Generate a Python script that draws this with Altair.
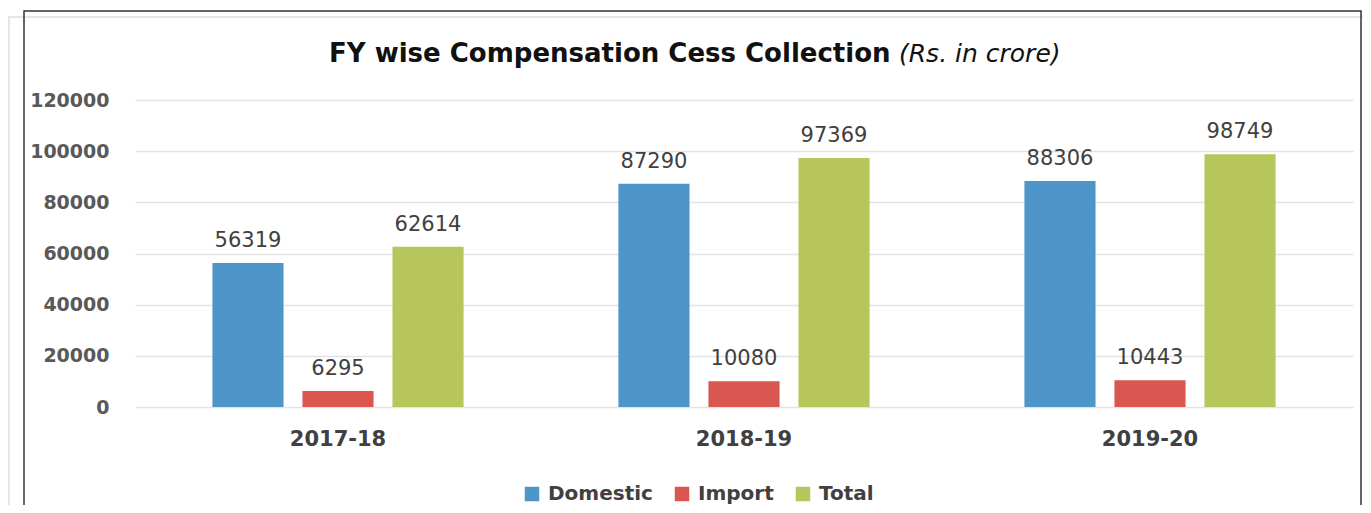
import altair as alt
import pandas as pd

years = ["2017-18", "2018-19", "2019-20"]
series = ["Domestic", "Import", "Total"]
domestic = [56319, 87290, 88306]
imports = [6295, 10080, 10443]
total = [62614, 97369, 98749]
colors = ["#4E95C9", "#DA5650", "#B7C65B"]
y_ticks = [0, 20000, 40000, 60000, 80000, 100000, 120000]

rows = []
for i, y in enumerate(years):
    for s, vals in zip(series, [domestic, imports, total]):
        rows.append({"year": y, "series": s, "value": vals[i]})
df = pd.DataFrame(rows)

W, H = 1218, 307

x = alt.X("year:N", sort=years, title=None,
          scale=alt.Scale(paddingInner=0, paddingOuter=0),
          axis=alt.Axis(labelAngle=0, labelFont="DejaVu Sans", labelFontWeight="bold",
                        labelFontSize=21, labelColor="#404040", labelPadding=21,
                        ticks=False, domain=False, grid=False))
xo = alt.XOffset("series:N", sort=series,
                 scale=alt.Scale(paddingInner=0.21, paddingOuter=0.86))
y = alt.Y("value:Q", title=None,
          scale=alt.Scale(domain=[0, 120000], nice=False),
          axis=alt.Axis(values=y_ticks, format="d", labelFont="DejaVu Sans",
                        labelFontWeight="bold", labelFontSize=19, labelColor="#595959",
                        labelPadding=26, ticks=False, domain=False,
                        gridColor="#E3E3E3", gridWidth=1.5))
color = alt.Color("series:N", sort=series,
                  scale=alt.Scale(domain=series, range=colors),
                  legend=alt.Legend(title=None, orient="none", direction="horizontal",
                                    legendX=387, legendY=384, symbolType="square",
                                    symbolSize=210, symbolStrokeWidth=0,
                                    labelFont="DejaVu Sans", labelFontWeight="bold",
                                    labelFontSize=20, labelColor="#404040",
                                    columnPadding=19, labelOffset=6))

bars = alt.Chart(df).mark_bar().encode(x=x, xOffset=xo, y=y, color=color)
labels = alt.Chart(df).mark_text(baseline="bottom", dy=-12, font="DejaVu Sans",
                                 fontSize=21, color="#404040").encode(
    x=x, xOffset=xo, y=y, text=alt.Text("value:Q", format="d"))

one = pd.DataFrame({"k": [0]})
title1 = alt.Chart(one).mark_text(text="FY wise Compensation Cess Collection",
                                  align="left", baseline="middle", font="DejaVu Sans",
                                  fontWeight="bold", fontSize=26, color="#111111").encode(
    x=alt.value(194), y=alt.value(-46))
title2 = alt.Chart(one).mark_text(text="(Rs. in crore)", align="left", baseline="middle",
                                  font="DejaVu Sans", fontStyle="italic", fontSize=25,
                                  color="#111111").encode(
    x=alt.value(764), y=alt.value(-46))
frame = alt.Chart(one).mark_rect(fill=None, stroke="#333333", strokeWidth=1.5).encode(
    x=alt.value(-111), x2=alt.value(1226), y=alt.value(-89), y2=alt.value(500))
outer = alt.Chart(one).mark_rect(fill=None, stroke="#E6E6E6", strokeWidth=2).encode(
    x=alt.value(-126), x2=alt.value(1300), y=alt.value(-83), y2=alt.value(500))

chart = alt.layer(outer, frame, bars, labels, title1, title2).properties(
    width=W, height=H,
    autosize=alt.AutoSizeParams(type="none"),
    padding={"left": 127, "top": 92, "right": 10, "bottom": 98},
).configure(background="white", view=alt.ViewConfig(stroke=None))

chart.save("out.html", embed_options={"renderer": "svg", "actions": False})
